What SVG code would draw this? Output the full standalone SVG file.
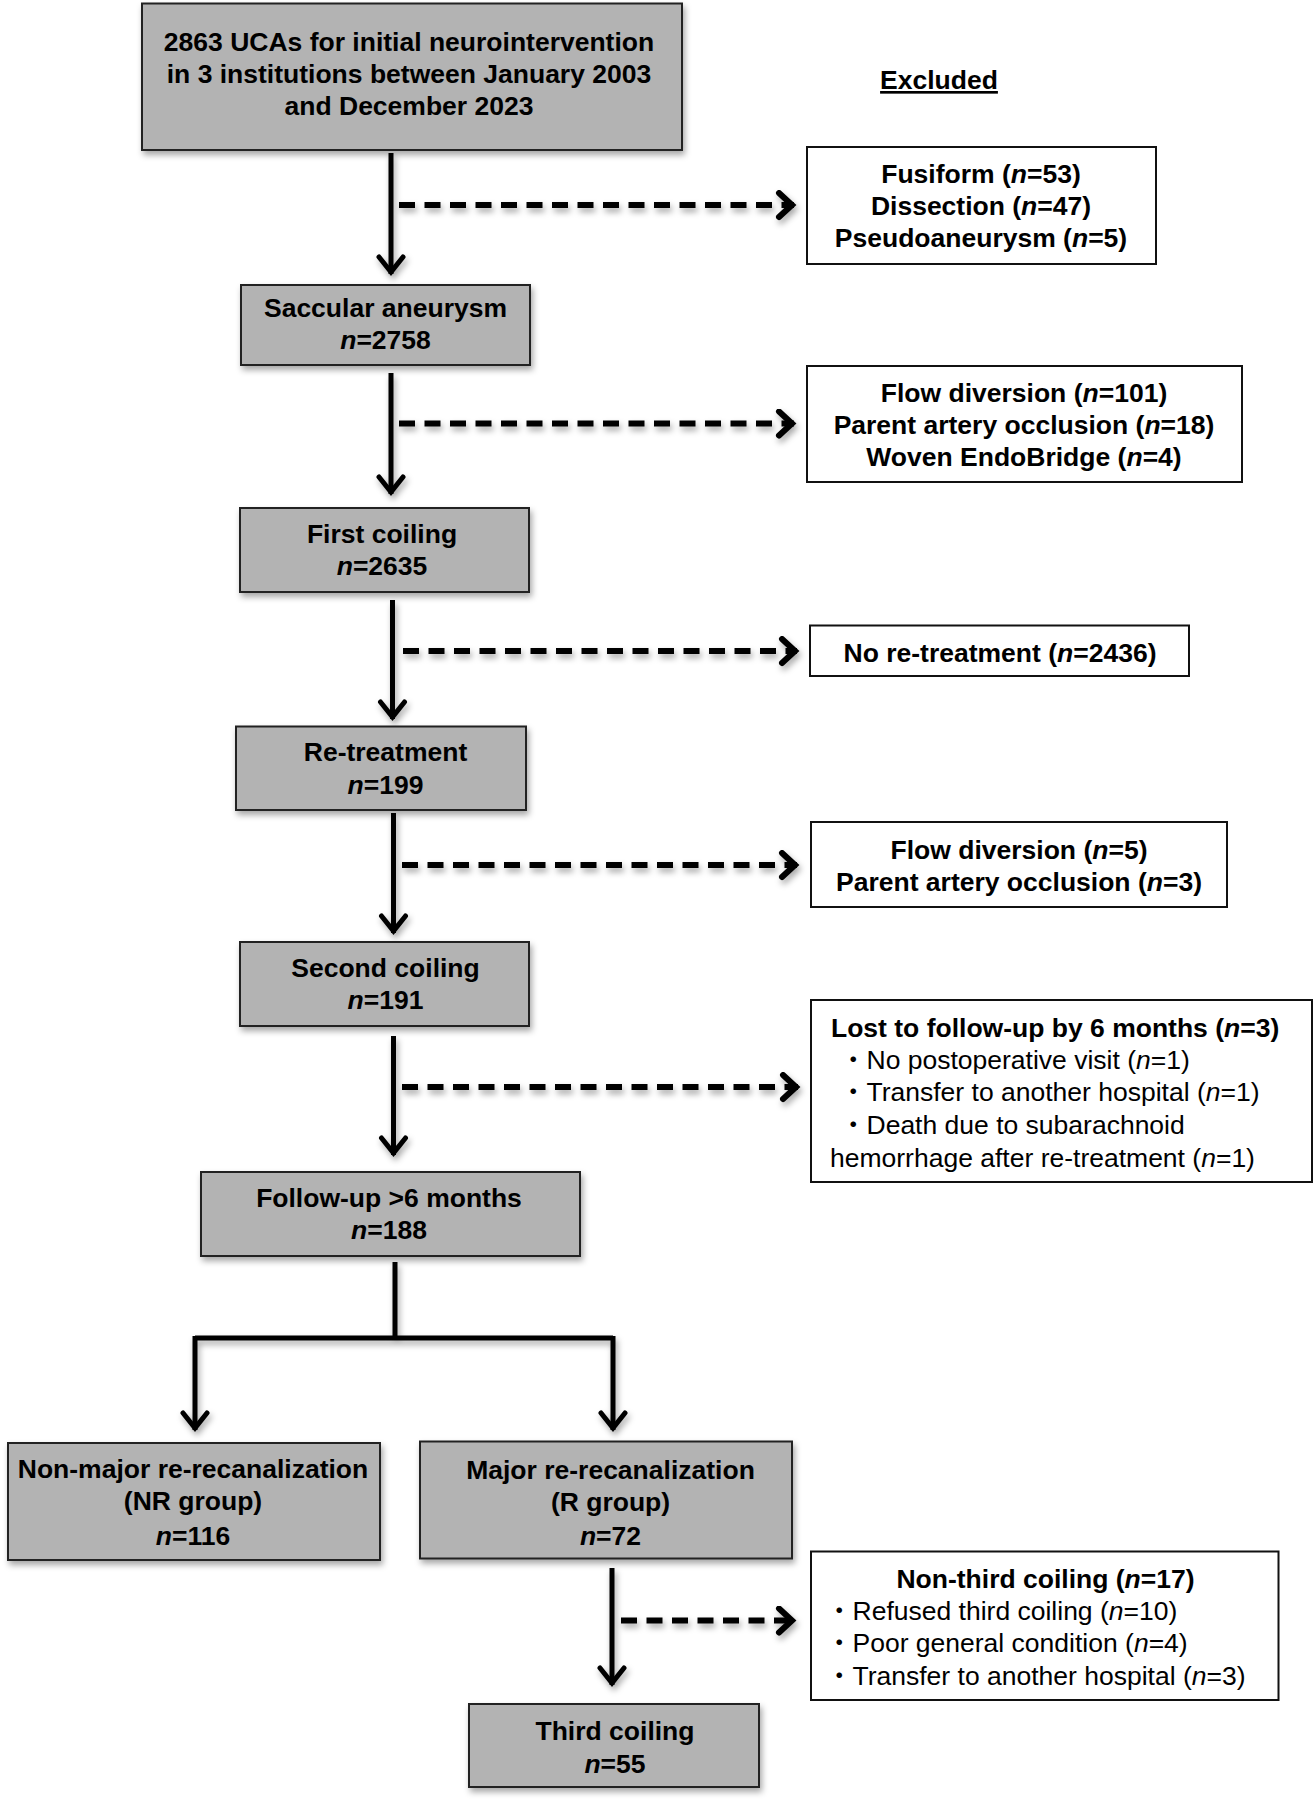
<svg xmlns="http://www.w3.org/2000/svg" width="1313" height="1800" viewBox="0 0 1313 1800">
<style>
text{font-family:"Liberation Sans",Arial,"Noto Sans CJK JP",sans-serif;font-size:26.5px;fill:#000}
.b{font-weight:bold}
.c{text-anchor:middle}
.i{font-style:italic}
.gray{fill:#b3b3b3;stroke:#222;stroke-width:2}
.white{fill:#fff;stroke:#111;stroke-width:2}
.solid{fill:none;stroke:#000;stroke-width:5}
.dash{fill:none;stroke:#000;stroke-width:6;stroke-dasharray:16 9.5}
</style>
<defs>
<filter id="sh" x="-10%" y="-10%" width="130%" height="140%">
<feDropShadow dx="2" dy="4" stdDeviation="3" flood-color="#000" flood-opacity="0.35"/>
</filter>
<marker id="ah" markerUnits="userSpaceOnUse" markerWidth="40" markerHeight="40" viewBox="0 0 40 40" refX="22" refY="15" orient="auto">
<path d="M5,3 L20,15 L5,27" fill="none" stroke="#000" stroke-width="5" stroke-linecap="round" stroke-dasharray="none"/>
</marker>
<marker id="ahd" markerUnits="userSpaceOnUse" markerWidth="40" markerHeight="40" viewBox="0 0 40 40" refX="22" refY="15" orient="auto">
<path d="M7,3 L20,15 L7,27" fill="none" stroke="#000" stroke-width="6" stroke-linecap="round" stroke-dasharray="none"/>
</marker>
</defs>

<g id="connectors" filter="url(#sh)">
<line class="solid" x1="391" y1="153" x2="391" y2="274" marker-end="url(#ah)"/>
<line class="solid" x1="391" y1="373" x2="391" y2="494" marker-end="url(#ah)"/>
<line class="solid" x1="392.5" y1="600" x2="392.5" y2="719" marker-end="url(#ah)"/>
<line class="solid" x1="393.5" y1="813" x2="393.5" y2="933" marker-end="url(#ah)"/>
<line class="solid" x1="393.5" y1="1036" x2="393.5" y2="1155" marker-end="url(#ah)"/>
<path class="solid" d="M395,1262 V1338 M195,1338 H613"/>
<line class="solid" x1="195" y1="1336" x2="195" y2="1430" marker-end="url(#ah)"/>
<line class="solid" x1="613" y1="1336" x2="613" y2="1430" marker-end="url(#ah)"/>
<line class="solid" x1="612" y1="1568" x2="612" y2="1685" marker-end="url(#ah)"/>
<line class="dash" x1="399" y1="205" x2="794" y2="205" marker-end="url(#ahd)"/>
<line class="dash" x1="399" y1="423.5" x2="794" y2="423.5" marker-end="url(#ahd)"/>
<line class="dash" x1="403" y1="651" x2="797" y2="651" marker-end="url(#ahd)"/>
<line class="dash" x1="402" y1="865" x2="797" y2="865" marker-end="url(#ahd)"/>
<line class="dash" x1="402" y1="1087" x2="798" y2="1087" marker-end="url(#ahd)"/>
<line class="dash" x1="621" y1="1620.5" x2="794" y2="1620.5" marker-end="url(#ahd)"/>
</g>

<g id="excluded-label">
<text class="b c" x="939" y="89" text-decoration="underline">Excluded</text>
</g>

<g id="n-initial">
<rect class="gray" x="142" y="3.5" width="540" height="146.5" filter="url(#sh)"/>
<text class="b c" x="409" y="51">2863 UCAs for initial neurointervention</text>
<text class="b c" x="409" y="83">in 3 institutions between January 2003</text>
<text class="b c" x="409" y="115">and December 2023</text>
</g>

<g id="x-morph">
<rect class="white" x="807" y="147" width="349" height="117"/>
<text class="b c" x="981" y="182.5">Fusiform (<tspan class="i">n</tspan>=53)</text>
<text class="b c" x="981" y="215">Dissection (<tspan class="i">n</tspan>=47)</text>
<text class="b c" x="981" y="247">Pseudoaneurysm (<tspan class="i">n</tspan>=5)</text>
</g>

<g id="n-saccular">
<rect class="gray" x="241" y="285" width="289" height="80" filter="url(#sh)"/>
<text class="b c" x="385.5" y="317">Saccular aneurysm</text>
<text class="b c" x="385.5" y="349"><tspan class="i">n</tspan>=2758</text>
</g>

<g id="x-device">
<rect class="white" x="807" y="366" width="435" height="116"/>
<text class="b c" x="1024" y="402">Flow diversion (<tspan class="i">n</tspan>=101)</text>
<text class="b c" x="1024" y="434">Parent artery occlusion (<tspan class="i">n</tspan>=18)</text>
<text class="b c" x="1024" y="466">Woven EndoBridge (<tspan class="i">n</tspan>=4)</text>
</g>

<g id="n-first">
<rect class="gray" x="240" y="508" width="289" height="84" filter="url(#sh)"/>
<text class="b c" x="382" y="543">First coiling</text>
<text class="b c" x="382" y="575"><tspan class="i">n</tspan>=2635</text>
</g>

<g id="x-noretreat">
<rect class="white" x="810" y="625.5" width="379" height="50.5"/>
<text class="b c" x="1000" y="661.5">No re-treatment (<tspan class="i">n</tspan>=2436)</text>
</g>

<g id="n-retreat">
<rect class="gray" x="236" y="726.5" width="290" height="83.5" filter="url(#sh)"/>
<text class="b c" x="385.5" y="761">Re-treatment</text>
<text class="b c" x="385.5" y="793.5"><tspan class="i">n</tspan>=199</text>
</g>

<g id="x-device2">
<rect class="white" x="811" y="822" width="416" height="85"/>
<text class="b c" x="1019" y="858.5">Flow diversion (<tspan class="i">n</tspan>=5)</text>
<text class="b c" x="1019" y="891">Parent artery occlusion (<tspan class="i">n</tspan>=3)</text>
</g>

<g id="n-second">
<rect class="gray" x="240" y="942" width="289" height="84" filter="url(#sh)"/>
<text class="b c" x="385.5" y="977">Second coiling</text>
<text class="b c" x="385.5" y="1009"><tspan class="i">n</tspan>=191</text>
</g>

<g id="x-lost">
<rect class="white" x="811" y="1000" width="501" height="182"/>
<text class="b" x="831" y="1036.5">Lost to follow-up by 6 months (<tspan class="i">n</tspan>=3)</text>
<text x="840" y="1068.5">・No postoperative visit (<tspan class="i">n</tspan>=1)</text>
<text x="840" y="1101">・Transfer to another hospital (<tspan class="i">n</tspan>=1)</text>
<text x="840" y="1134">・Death due to subarachnoid</text>
<text x="830" y="1166.5">hemorrhage after re-treatment (<tspan class="i">n</tspan>=1)</text>
</g>

<g id="n-followup">
<rect class="gray" x="201" y="1172" width="379" height="84" filter="url(#sh)"/>
<text class="b c" x="389" y="1206.5">Follow-up &gt;6 months</text>
<text class="b c" x="389" y="1238.5"><tspan class="i">n</tspan>=188</text>
</g>

<g id="n-nr">
<rect class="gray" x="8" y="1443" width="372" height="117" filter="url(#sh)"/>
<text class="b c" x="193" y="1477.5">Non-major re-recanalization</text>
<text class="b c" x="193" y="1509.5">(NR group)</text>
<text class="b c" x="193" y="1545"><tspan class="i">n</tspan>=116</text>
</g>

<g id="n-r">
<rect class="gray" x="420" y="1441.5" width="372" height="117" filter="url(#sh)"/>
<text class="b c" x="610.5" y="1478.5">Major re-recanalization</text>
<text class="b c" x="610.5" y="1510.5">(R group)</text>
<text class="b c" x="610.5" y="1545"><tspan class="i">n</tspan>=72</text>
</g>

<g id="x-nonthird">
<rect class="white" x="811" y="1551.5" width="467.5" height="148.5"/>
<text class="b c" x="1045.5" y="1587.5">Non-third coiling (<tspan class="i">n</tspan>=17)</text>
<text x="826" y="1619.5">・Refused third coiling (<tspan class="i">n</tspan>=10)</text>
<text x="826" y="1651.5">・Poor general condition (<tspan class="i">n</tspan>=4)</text>
<text x="826" y="1685">・Transfer to another hospital (<tspan class="i">n</tspan>=3)</text>
</g>

<g id="n-third">
<rect class="gray" x="469" y="1704" width="290" height="83" filter="url(#sh)"/>
<text class="b c" x="615" y="1740">Third coiling</text>
<text class="b c" x="615" y="1772.5"><tspan class="i">n</tspan>=55</text>
</g>
</svg>
